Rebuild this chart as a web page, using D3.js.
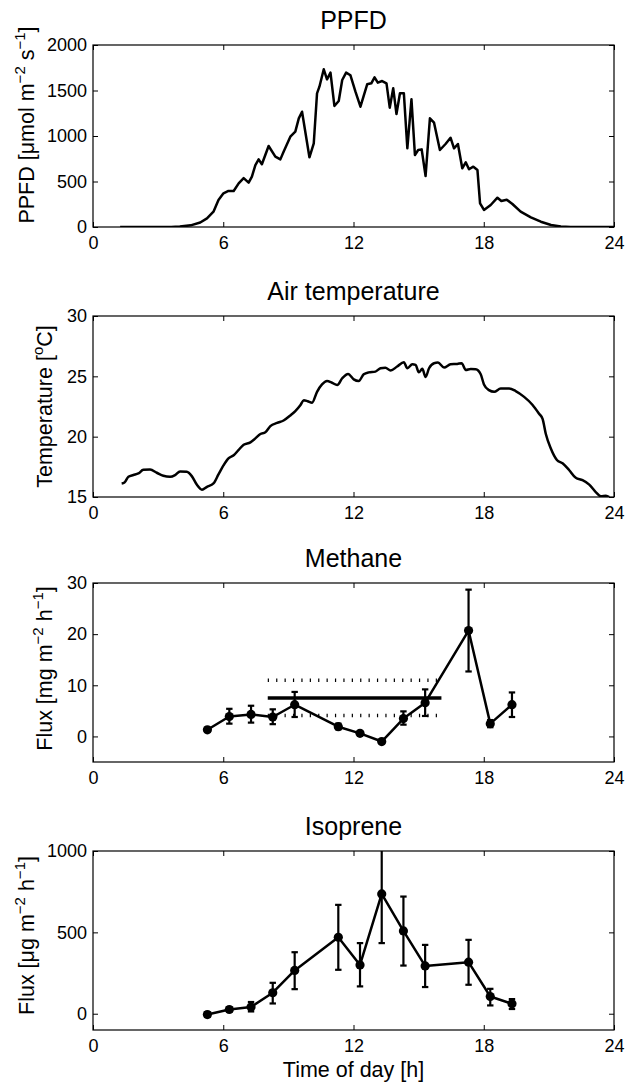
<!DOCTYPE html>
<html lang="en">
<head>
<meta charset="utf-8">
<title>Diurnal course</title>
<script src="https://d3js.org/d3.v7.min.js"></script>
<style>
  body { margin: 0; background: #fff; }
  text { font-family: "Liberation Sans", Arial, sans-serif; fill: #000; }
</style>
</head>
<body>
<div id="chart"></div>
<script>
// ---- data ----
var hourTicks = [0, 6, 12, 18, 24];

var ppfdHour = [1.25, 2.0, 3.0, 3.6, 4.0, 4.5, 4.94, 5.25, 5.55, 5.78, 6.01, 6.24, 6.48, 6.71, 6.94, 7.17, 7.32, 7.48, 7.63, 7.78,
  8.09, 8.4, 8.63, 8.78, 9.09, 9.32, 9.48, 9.63, 9.97, 10.17, 10.32, 10.43, 10.63, 10.78, 10.94, 11.12, 11.32, 11.48, 11.66, 11.86,
  12.09, 12.32, 12.63, 12.82, 12.97, 13.12, 13.32, 13.52, 13.67, 13.83, 13.98, 14.14, 14.32, 14.48, 14.67, 14.83, 14.98, 15.14, 15.32, 15.52,
  15.71, 15.98, 16.24, 16.47, 16.63, 16.81, 17.01, 17.17, 17.32, 17.52, 17.71, 17.83, 18.01, 18.32, 18.63, 18.81, 19.06, 19.32, 19.7, 20.17,
  20.63, 21.1, 21.55, 22.0, 24.0];
var ppfdValue = [0, 0, 0, 1, 5, 18, 50, 95, 168, 297, 370, 396, 396, 480, 538, 487, 553, 681, 743, 689,
  890, 773, 743, 828, 993, 1048, 1194, 1267, 766, 920, 1469, 1542, 1733, 1623, 1696, 1330, 1385, 1615, 1696, 1667,
  1487, 1322, 1568, 1579, 1645, 1586, 1604, 1579, 1311, 1524, 1242, 1469, 1469, 865, 1403, 791, 846, 853, 560, 1194,
  1146, 846, 912, 981, 865, 912, 645, 711, 634, 663, 626, 260, 187, 242, 322, 286, 300, 253, 168, 106,
  58, 22, 5, 0, 0];
var ppfdTicks = [0, 500, 1000, 1500, 2000];

var tempHour = [1.32, 1.45, 1.63, 1.86, 2.09, 2.32, 2.63, 2.94, 3.24, 3.55, 3.78, 4.01, 4.32, 4.55, 4.78, 5.02, 5.25, 5.55, 5.78, 6.01,
  6.24, 6.48, 6.71, 6.94, 7.25, 7.48, 7.71, 7.94, 8.17, 8.48, 8.78, 9.09, 9.32, 9.55, 9.71, 9.89, 10.09, 10.32, 10.55, 10.78,
  11.01, 11.25, 11.48, 11.75, 12.01, 12.24, 12.47, 12.7, 13.01, 13.24, 13.47, 13.71, 14.01, 14.32, 14.48, 14.71, 14.86, 15.01, 15.17, 15.32,
  15.48, 15.71, 15.89, 16.17, 16.47, 16.78, 16.98, 17.17, 17.4, 17.63, 17.86, 18.01, 18.24, 18.48, 18.78, 19.17, 19.47, 19.86, 20.24, 20.55,
  20.71, 20.86, 21.09, 21.37, 21.63, 21.93, 22.24, 22.55, 22.86, 23.17, 23.4, 23.63, 23.78];
var tempValue = [16.12, 16.2, 16.68, 16.82, 16.95, 17.25, 17.27, 17.01, 16.76, 16.68, 16.82, 17.12, 17.09, 16.73, 16.03, 15.61, 15.84, 16.12, 16.87, 17.62,
  18.21, 18.46, 18.91, 19.33, 19.53, 19.86, 20.22, 20.36, 20.87, 21.14, 21.34, 21.76, 22.12, 22.6, 23.02, 22.94, 22.82, 23.72, 24.33, 24.61,
  24.47, 24.28, 24.84, 25.2, 24.75, 24.61, 25.17, 25.33, 25.39, 25.67, 25.72, 25.48, 25.81, 26.17, 25.67, 26.0, 25.95, 25.33, 25.62, 24.95,
  25.67, 26.09, 26.14, 25.73, 26.0, 26.03, 26.09, 25.53, 25.61, 25.59, 25.17, 24.33, 23.86, 23.72, 23.99, 23.99, 23.78, 23.3, 22.65, 21.9,
  21.48, 20.22, 19.02, 18.07, 17.79, 17.24, 16.59, 16.4, 16.03, 15.39, 15.06, 15.11, 15.0];
var tempTicks = [15, 20, 25, 30];

var sampleHour = [5.27, 6.28, 7.28, 8.28, 9.29, 11.3, 12.3, 13.3, 14.3, 15.3, 17.3, 18.3, 19.3];
var methaneValue = [1.3, 3.9, 4.3, 3.8, 6.2, 1.9, 0.6, -1.0, 3.5, 6.6, 20.7, 2.5, 6.2];
var methaneLow = [0.9, 2.5, 2.7, 2.4, 3.8, 1.4, 0.3, -1.3, 2.3, 4.0, 12.7, 1.8, 3.8];
var methaneHigh = [1.7, 5.4, 6.0, 5.3, 8.7, 2.5, 0.9, -0.7, 4.9, 9.2, 28.7, 3.2, 8.6];
var methaneTicks = [0, 10, 20, 30];
var methaneMeanSpan = [8.05, 16.05];
var methaneMean = 7.5;
var methaneBand = [4.1, 11.0];

var isopreneValue = [-5, 26, 41, 129, 266, 470, 300, 736, 509, 294, 317, 106, 61];
var isopreneLow = [-20, 12, 14, 63, 151, 270, 168, 434, 296, 164, 178, 51, 29];
var isopreneHigh = [10, 40, 72, 190, 378, 669, 434, 1040, 720, 423, 454, 153, 90];
var isopreneTicks = [0, 500, 1000];

// ---- layout ----
var W = 627, H = 1084;
var left = 93, right = 614;
var svg = d3.select("#chart").append("svg").attr("width", W).attr("height", H);

var x = d3.scaleLinear().domain([0, 24]).range([left, right]);

var panels = [
  { title: "PPFD", top: 45, bottom: 227, domain: [0, 2000], ticks: ppfdTicks, labelX: 34, labelShift: -11,
    label: [["PPFD [\u03bcmol m", 0], ["\u22122", 1], [" s", 0], ["\u22121", 1], ["]", 0]] },
  { title: "Air temperature", top: 316, bottom: 497, domain: [15, 30], ticks: tempTicks, labelX: 52, labelShift: 0,
    label: [["Temperature [", 0], ["o", 1], ["C]", 0]] },
  { title: "Methane", top: 583, bottom: 762, domain: [-5, 30], ticks: methaneTicks, labelX: 52, labelShift: -4,
    label: [["Flux [mg m", 0], ["\u22122", 1], [" h", 0], ["\u22121", 1], ["]", 0]] },
  { title: "Isoprene", top: 851, bottom: 1030, domain: [-100, 1000], ticks: isopreneTicks, labelX: 34, labelShift: -5,
    label: [["Flux [\u03bcg m", 0], ["\u22122", 1], [" h", 0], ["\u22121", 1], ["]", 0]] }
];

panels.forEach(function(p, i) {
  var y = d3.scaleLinear().domain(p.domain).range([p.bottom, p.top]);
  p.y = y;
  var g = svg.append("g");

  g.append("clipPath").attr("id", "clip" + i)
    .append("rect").attr("x", left).attr("y", p.top)
    .attr("width", right - left).attr("height", p.bottom - p.top);

  // box
  g.append("rect").attr("x", left).attr("y", p.top)
    .attr("width", right - left).attr("height", p.bottom - p.top)
    .attr("fill", "none").attr("stroke", "#000").attr("stroke-width", 1.2);

  // axes with inward ticks, mirrored on the opposite sides
  var xb = g.append("g").attr("transform", "translate(0," + p.bottom + ")")
    .call(d3.axisBottom(x).tickValues(hourTicks).tickSizeInner(-5).tickSizeOuter(0).tickPadding(9).tickFormat(d3.format("d")));
  var xt = g.append("g").attr("transform", "translate(0," + p.top + ")")
    .call(d3.axisTop(x).tickValues(hourTicks).tickSizeInner(-5).tickSizeOuter(0).tickFormat(""));
  var yl = g.append("g").attr("transform", "translate(" + left + ",0)")
    .call(d3.axisLeft(y).tickValues(p.ticks).tickSizeInner(-5).tickSizeOuter(0).tickPadding(6).tickFormat(d3.format("d")));
  var yr = g.append("g").attr("transform", "translate(" + right + ",0)")
    .call(d3.axisRight(y).tickValues(p.ticks).tickSizeInner(-5).tickSizeOuter(0).tickFormat(""));
  [xb, xt, yl, yr].forEach(function(a) {
    a.select(".domain").remove();
    a.selectAll("line").attr("stroke", "#000").attr("stroke-width", 1);
    a.selectAll("text").attr("font-family", "Liberation Sans, Arial, sans-serif")
      .attr("font-size", 18).attr("fill", "#000");
  });

  // title
  g.append("text").attr("x", (left + right) / 2).attr("y", p.top - 16)
    .attr("text-anchor", "middle").attr("font-size", 25).text(p.title);

  // y label with superscripts
  var lab = g.append("text")
    .attr("transform", "translate(" + p.labelX + "," + ((p.top + p.bottom) / 2 + p.labelShift) + ") rotate(-90)")
    .attr("text-anchor", "middle").attr("font-size", 21.5);
  p.label.forEach(function(part, k) {
    var prev = k > 0 ? p.label[k - 1][1] : 0;
    var t = lab.append("tspan").text(part[0]);
    if (part[1]) t.attr("font-size", 15);
    t.attr("dy", part[1] && !prev ? -9 : (!part[1] && prev ? 9 : 0));
  });

  p.plot = g.append("g").attr("clip-path", "url(#clip" + i + ")");
});

// PPFD
var ppfdData = ppfdHour.map(function(h, i) { return [h, ppfdValue[i]]; });
panels[0].plot.append("path").datum(ppfdData)
  .attr("fill", "none").attr("stroke", "#000").attr("stroke-width", 2.5).attr("stroke-linejoin", "round")
  .attr("d", d3.line().x(function(d) { return x(d[0]); }).y(function(d) { return panels[0].y(d[1]); }));

// temperature
var tempData = tempHour.map(function(h, i) { return [h, tempValue[i]]; });
panels[1].plot.append("path").datum(tempData)
  .attr("fill", "none").attr("stroke", "#000").attr("stroke-width", 2.5).attr("stroke-linejoin", "round")
  .attr("d", d3.line().curve(d3.curveMonotoneX).x(function(d) { return x(d[0]); }).y(function(d) { return panels[1].y(d[1]); }));

// methane summary lines
var pm = panels[2];
pm.plot.selectAll(".band").data(methaneBand).enter().append("line")
  .attr("x1", x(methaneMeanSpan[0])).attr("x2", x(methaneMeanSpan[1]))
  .attr("y1", function(d) { return pm.y(d); }).attr("y2", function(d) { return pm.y(d); })
  .attr("stroke", "#000").attr("stroke-width", 3.5).attr("stroke-dasharray", "1.2,7.2");
pm.plot.append("line")
  .attr("x1", x(methaneMeanSpan[0])).attr("x2", x(methaneMeanSpan[1]))
  .attr("y1", pm.y(methaneMean)).attr("y2", pm.y(methaneMean))
  .attr("stroke", "#000").attr("stroke-width", 3.5);

function errorSeries(p, vals, lo, hi) {
  var rows = sampleHour.map(function(h, i) { return { h: h, v: vals[i], lo: lo[i], hi: hi[i] }; });
  var sel = p.plot.selectAll(".eb").data(rows).enter().append("g");
  sel.append("line").attr("x1", function(d) { return x(d.h); }).attr("x2", function(d) { return x(d.h); })
    .attr("y1", function(d) { return p.y(d.lo); }).attr("y2", function(d) { return p.y(d.hi); })
    .attr("stroke", "#000").attr("stroke-width", 2.2);
  ["lo", "hi"].forEach(function(k) {
    sel.append("line").attr("x1", function(d) { return x(d.h) - 3.2; }).attr("x2", function(d) { return x(d.h) + 3.2; })
      .attr("y1", function(d) { return p.y(d[k]); }).attr("y2", function(d) { return p.y(d[k]); })
      .attr("stroke", "#000").attr("stroke-width", 2.2);
  });
  p.plot.append("path").datum(rows)
    .attr("fill", "none").attr("stroke", "#000").attr("stroke-width", 2.5).attr("stroke-linejoin", "round")
    .attr("d", d3.line().x(function(d) { return x(d.h); }).y(function(d) { return p.y(d.v); }));
  p.plot.selectAll(".dot").data(rows).enter().append("circle")
    .attr("cx", function(d) { return x(d.h); }).attr("cy", function(d) { return p.y(d.v); })
    .attr("r", 4.6).attr("fill", "#000");
}
errorSeries(panels[2], methaneValue, methaneLow, methaneHigh);
errorSeries(panels[3], isopreneValue, isopreneLow, isopreneHigh);

// x-axis title
svg.append("text").attr("x", (left + right) / 2).attr("y", 1077)
  .attr("text-anchor", "middle").attr("font-size", 21.5).text("Time of day [h]");
</script>
</body>
</html>
